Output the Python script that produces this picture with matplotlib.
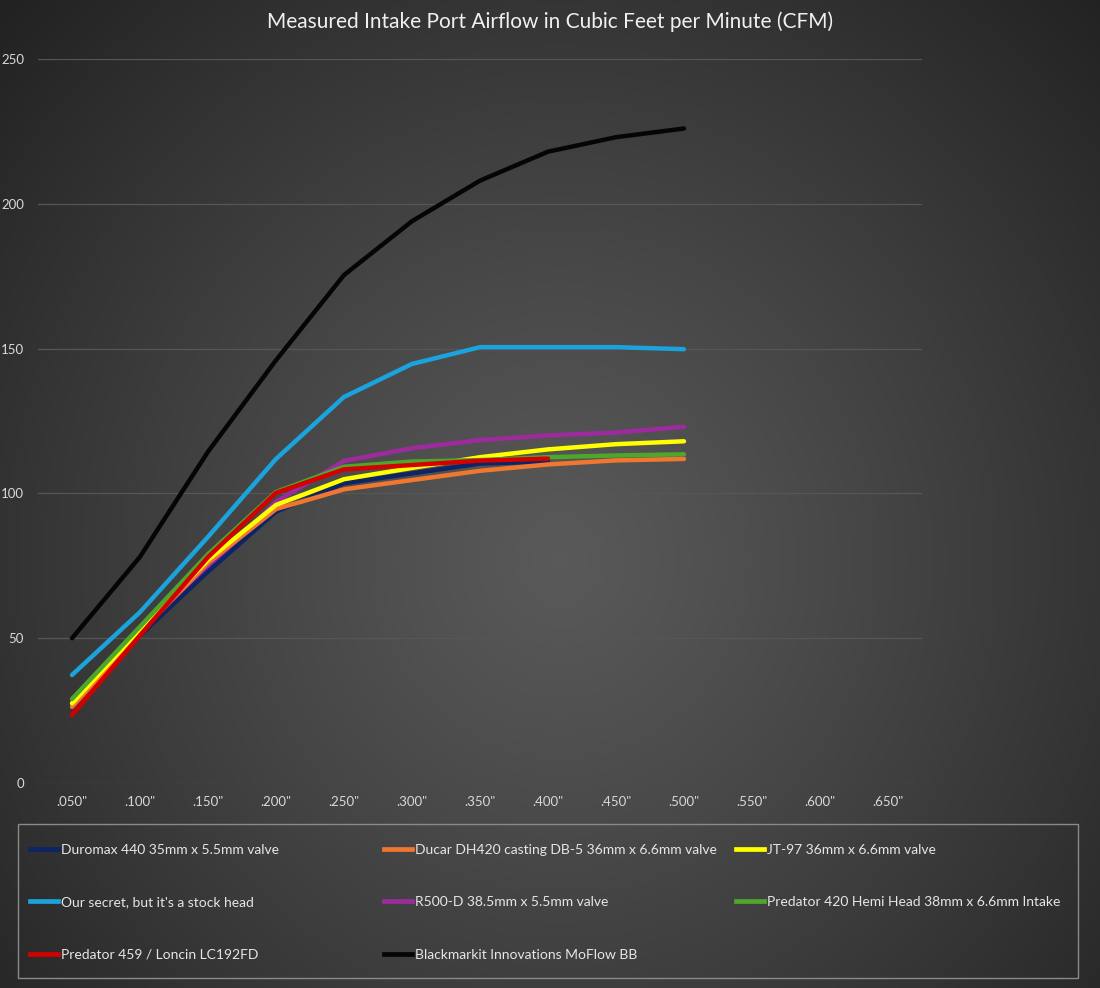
import numpy as np
import matplotlib
matplotlib.use("Agg")
import matplotlib.pyplot as plt
from matplotlib.lines import Line2D
from matplotlib.patches import Rectangle

plt.rcParams['font.family'] = ['Lato', 'DejaVu Sans']

lifts = ['.050"', '.100"', '.150"', '.200"', '.250"', '.300"', '.350"',
         '.400"', '.450"', '.500"', '.550"', '.600"', '.650"']

duromax = [27, 51, 73, 93.7, 103.5, 106.9, 110.3, 111]
ducar = [26.3, 52, 76, 94.6, 101.4, 104.6, 107.8, 110, 111.4, 111.9]
jt97 = [27.5, 53, 77, 96, 104.9, 108.8, 112.5, 115.2, 117, 118]
secret = [37.3, 59, 85, 111.9, 133.3, 144.7, 150.5, 150.5, 150.5, 149.8]
r500d = [27.5, 52.5, 74, 97.1, 111.2, 115.6, 118.4, 120, 121, 123]
predator420 = [29, 54, 79, 100.5, 109.2, 111, 111.5, 112.5, 113.1, 113.5]
predator459 = [23.5, 51, 78, 100.2, 108.3, 109.8, 111.3, 112]
moflow = [50, 78.1, 114.4, 146, 175.4, 194, 208, 218, 223, 226]

series = [
    ("Duromax 440 35mm x 5.5mm valve", duromax, "#0d2466"),
    ("Ducar DH420 casting DB-5 36mm x 6.6mm valve", ducar, "#f0772f"),
    ("JT-97 36mm x 6.6mm valve", jt97, "#ffff00"),
    ("Our secret, but it's a stock head", secret, "#1aa3dc"),
    ("R500-D 38.5mm x 5.5mm valve", r500d, "#9e2b9e"),
    ("Predator 420 Hemi Head 38mm x 6.6mm Intake", predator420, "#4ea72a"),
    ("Predator 459 / Loncin LC192FD", predator459, "#d40000"),
    ("Blackmarkit Innovations MoFlow BB", moflow, "#050505"),
]
# draw order (bottom to top)
draw_order = [7, 3, 4, 0, 1, 2, 5, 6]

W, H = 1100, 988
fig = plt.figure(figsize=(W / 100, H / 100), dpi=100)

# radial gradient background
bg = fig.add_axes([0, 0, 1, 1], zorder=-10)
yy, xx = np.mgrid[0:H, 0:W]
cx, cy = 560, 560
r = np.sqrt(((xx - cx) / 1.0) ** 2 + ((yy - cy) / 1.05) ** 2)
rmax = np.sqrt(cx ** 2 + (cy / 1.05) ** 2)
t = np.clip(r / rmax, 0, 1)
c_center, c_edge = 0.35, 0.13
val = c_center + (c_edge - c_center) * t ** 1.15
img = np.dstack([val, val, val])
bg.imshow(img, aspect='auto', extent=[0, 1, 0, 1], origin='upper')
bg.set_axis_off()

ax = fig.add_axes([38 / W, 1 - 783 / H, (922 - 38) / W, (783 - 59) / H])
ax.set_facecolor('none')
x = np.arange(len(lifts))
for i in draw_order:
    name, vals, col = series[i]
    ax.plot(x[:len(vals)], vals, color=col, lw=3.2, solid_capstyle='round',
            solid_joinstyle='round', zorder=3 + draw_order.index(i))

ax.set_xlim(-0.5, len(lifts) - 0.5)
ax.set_ylim(0, 250)
ax.set_yticks([0, 50, 100, 150, 200, 250])
ax.set_xticks(x)
ax.set_xticklabels(lifts)
ax.tick_params(axis='both', length=0, colors='#d9d9d9', labelsize=9.5)
ax.tick_params(axis='x', pad=9)
ax.tick_params(axis='y', pad=10)
ax.grid(axis='y', color='#565656', lw=0.9)
ax.set_axisbelow(True)
for s in ax.spines.values():
    s.set_visible(False)

fig.text(0.5, 1 - 22 / H, "Measured Intake Port Airflow in Cubic Feet per Minute (CFM)",
         ha='center', va='center', color='#f0f0f0', fontsize=15.0)

# legend frame
fig.patches.append(Rectangle((18 / W, 1 - 978 / H), (1078 - 18) / W, (978 - 824) / H,
                             transform=fig.transFigure, fill=False,
                             edgecolor='#8a8a8a', lw=1.0))

# legend: three columns, row-major fill
ncol = 3
col_x = [30, 384, 736]
for c in range(ncol):
    idx = [k for k in range(len(series)) if k % ncol == c]
    hs = [Line2D([0], [0], color=series[k][2], lw=3.4) for k in idx]
    ls = [series[k][0] for k in idx]
    leg = fig.legend(hs, ls, loc='upper left',
                     bbox_to_anchor=(col_x[c] / W, 1 - 844 / H),
                     frameon=False, fontsize=10.0, labelcolor='#e6e6e6',
                     handlelength=2.05, handletextpad=0.15, borderpad=0,
                     labelspacing=2.9, borderaxespad=0)

fig.savefig('out.png', dpi=100)
